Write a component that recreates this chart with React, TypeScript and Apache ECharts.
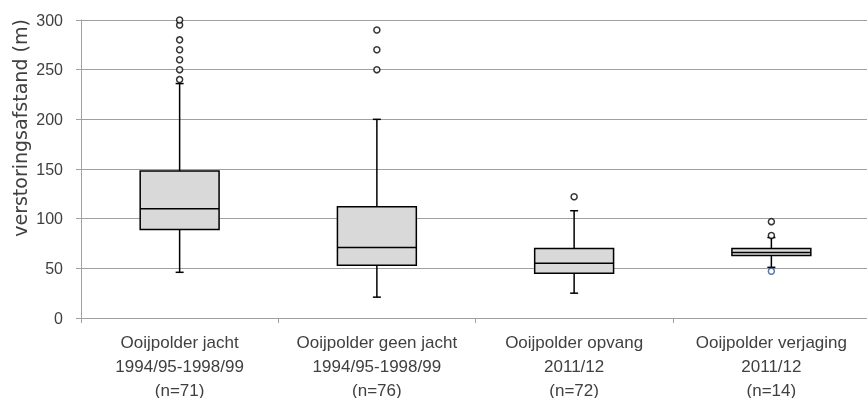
import React, { useEffect, useRef } from "react";
import * as echarts from "echarts";

const categories = [
  "Ooijpolder jacht\n1994/95-1998/99\n(n=71)",
  "Ooijpolder geen jacht\n1994/95-1998/99\n(n=76)",
  "Ooijpolder opvang\n2011/12\n(n=72)",
  "Ooijpolder verjaging\n2011/12\n(n=14)",
];
const lowerWhisker = [46, 21, 25, 51];
const q1 = [89, 53, 45, 63];
const median = [110, 71, 55, 66];
const q3 = [148, 112, 70, 70];
const upperWhisker = [236, 200, 108, 81];
const outliers: [number, number][] = [
  [0, 240], [0, 250], [0, 260], [0, 270], [0, 280], [0, 295], [0, 300],
  [1, 250], [1, 270], [1, 290],
  [2, 122],
  [3, 83], [3, 97],
];
const blueOutliers: [number, number][] = [[3, 47]];
const yTicks = [0, 50, 100, 150, 200, 250, 300];
const yTitle = "verstoringsafstand (m)";

export default function App() {
  const ref = useRef<HTMLDivElement>(null);
  useEffect(() => {
    if (!ref.current) return;
    const chart = echarts.init(ref.current, null, { renderer: "svg" });
    const boxData = categories.map((_, i) => [i, lowerWhisker[i], q1[i], median[i], q3[i], upperWhisker[i]]);
    const textColor = "#404040";
    const gridColor = "#a0a0a0";
    chart.setOption({
      animation: false,
      grid: {
        left: 81,
        top: 20,
        width: 789,
        height: 298,
        containLabel: false,
        outerBoundsMode: "none",
      },
      graphic: [
        {
          type: "text",
          x: 20,
          y: 128,
          rotation: Math.PI / 2,
          style: {
            text: yTitle,
            fontFamily: "DejaVu Sans",
            fontSize: 19,
            fill: textColor,
            textAlign: "center",
            textVerticalAlign: "middle",
          },
        },
      ],
      xAxis: {
        type: "category",
        data: categories,
        boundaryGap: true,
        axisLine: { lineStyle: { color: gridColor, width: 1 } },
        axisTick: { show: true, length: 5, interval: 0, lineStyle: { color: gridColor } },
        axisLabel: {
          interval: 0,
          margin: 12,
          color: textColor,
          fontFamily: "Liberation Sans",
          fontSize: 17,
          lineHeight: 24,
          align: "center",
        },
        splitLine: { show: false },
      },
      yAxis: {
        type: "value",
        min: yTicks[0],
        max: yTicks[yTicks.length - 1],
        interval: 50,
        axisLine: { show: true, lineStyle: { color: gridColor, width: 1 } },
        axisTick: { show: true, length: 5, lineStyle: { color: gridColor } },
        axisLabel: {
          margin: 18,
          color: textColor,
          fontFamily: "Liberation Sans",
          fontSize: 16,
        },
        splitLine: { show: true, lineStyle: { color: gridColor, width: 1 } },
      },
      series: [
        {
          type: "custom",
          data: boxData,
          encode: { x: 0, y: [1, 2, 3, 4, 5] },
          z: 2,
          renderItem: (params: any, api: any) => {
            const idx = api.value(0);
            const lo = api.coord([idx, api.value(1)]);
            const b1 = api.coord([idx, api.value(2)]);
            const md = api.coord([idx, api.value(3)]);
            const b3 = api.coord([idx, api.value(4)]);
            const hi = api.coord([idx, api.value(5)]);
            const w = api.size([1, 0])[0] * 0.4;
            const x = lo[0];
            const cap = 4;
            const ls = { stroke: "#000", lineWidth: 1.5 };
            return {
              type: "group",
              children: [
                { type: "line", shape: { x1: x, y1: lo[1], x2: x, y2: b1[1] }, style: ls },
                { type: "line", shape: { x1: x, y1: b3[1], x2: x, y2: hi[1] }, style: ls },
                { type: "line", shape: { x1: x - cap, y1: lo[1], x2: x + cap, y2: lo[1] }, style: ls },
                { type: "line", shape: { x1: x - cap, y1: hi[1], x2: x + cap, y2: hi[1] }, style: ls },
                {
                  type: "rect",
                  shape: { x: x - w / 2, y: b3[1], width: w, height: b1[1] - b3[1] },
                  style: { fill: "#d9d9d9", stroke: "#000", lineWidth: 1.5 },
                },
                { type: "line", shape: { x1: x - w / 2, y1: md[1], x2: x + w / 2, y2: md[1] }, style: ls },
              ],
            };
          },
        },
        {
          type: "scatter",
          data: outliers,
          symbol: "circle",
          symbolSize: 6,
          z: 3,
          itemStyle: { color: "#fff", borderColor: "#000", borderWidth: 1.5 },
        },
        {
          type: "scatter",
          data: blueOutliers,
          symbol: "circle",
          symbolSize: 6,
          z: 3,
          itemStyle: { color: "#fff", borderColor: "#2f5597", borderWidth: 1.5 },
        },
      ],
    });
    return () => chart.dispose();
  }, []);
  return (
    <div
      ref={ref}
      style={{ position: "fixed", left: 0, top: 0, width: 867, height: 398 }}
    />
  );
}
